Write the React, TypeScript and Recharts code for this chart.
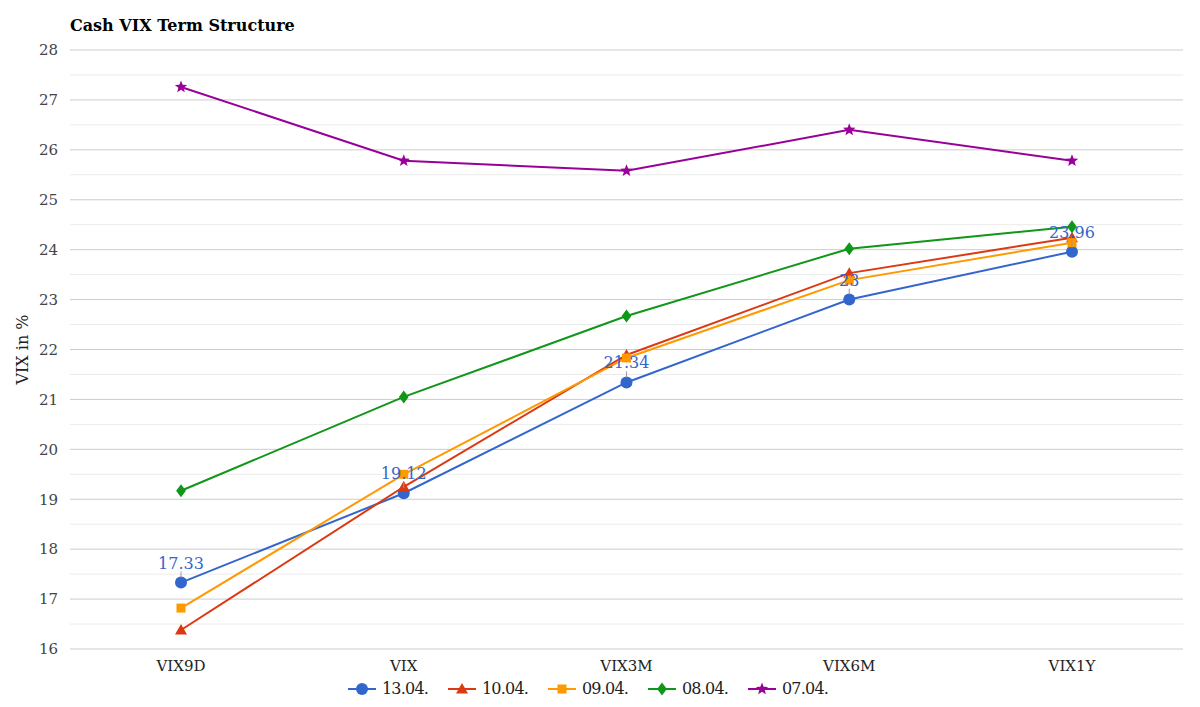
import React from "react"
import { LineChart, Line, XAxis, YAxis, CartesianGrid, ReferenceLine, Legend, LabelList } from "recharts"

const categories = ["VIX9D", "VIX", "VIX3M", "VIX6M", "VIX1Y"]
const s1304 = [17.33, 19.12, 21.34, 23, 23.96]
const s1004 = [16.38, 19.25, 21.89, 23.53, 24.24]
const s0904 = [16.82, 19.5, 21.83, 23.39, 24.14]
const s0804 = [19.17, 21.05, 22.67, 24.02, 24.46]
const s0704 = [27.26, 25.78, 25.58, 26.4, 25.78]
const yTicks = [16, 17, 18, 19, 20, 21, 22, 23, 24, 25, 26, 27, 28]
const minorTicks = [16.5, 17.5, 18.5, 19.5, 20.5, 21.5, 22.5, 23.5, 24.5, 25.5, 26.5, 27.5]

const series = [
  { key: "d1304", name: "13.04.", color: "#3366cc", shape: "circle", values: s1304 },
  { key: "d1004", name: "10.04.", color: "#dc3912", shape: "triangle", values: s1004 },
  { key: "d0904", name: "09.04.", color: "#ff9900", shape: "square", values: s0904 },
  { key: "d0804", name: "08.04.", color: "#109618", shape: "diamond", values: s0804 },
  { key: "d0704", name: "07.04.", color: "#990099", shape: "star", values: s0704 },
]

const data = categories.map((cat, i) => {
  const row: Record<string, string | number> = { cat }
  series.forEach((s) => (row[s.key] = s.values[i]))
  return row
})

const FONT = "'DejaVu Serif', serif"

function Marker({ shape, cx, cy, color }: { shape: string; cx: number; cy: number; color: string }) {
  if (shape === "circle") return <circle cx={cx} cy={cy} r={6} fill={color} />
  if (shape === "triangle") {
    const r = 6
    return <polygon points={`${cx},${cy - r} ${cx + r},${cy + r * 0.75} ${cx - r},${cy + r * 0.75}`} fill={color} />
  }
  if (shape === "square") return <rect x={cx - 4.5} y={cy - 4.5} width={9} height={9} fill={color} />
  if (shape === "diamond") {
    const r = 6.5
    return <polygon points={`${cx},${cy - r} ${cx + r * 0.75},${cy} ${cx},${cy + r} ${cx - r * 0.75},${cy}`} fill={color} />
  }
  // star
  const pts: string[] = []
  for (let k = 0; k < 10; k++) {
    const rad = k % 2 === 0 ? 6.5 : 2.8
    const a = -Math.PI / 2 + (k * Math.PI) / 5
    pts.push(`${cx + rad * Math.cos(a)},${cy + rad * Math.sin(a)}`)
  }
  return <polygon points={pts.join(" ")} fill={color} />
}

const renderLegend = () => (
  <div
    style={{
      display: "flex",
      justifyContent: "center",
      fontFamily: FONT,
      fontSize: 16,
      letterSpacing: -0.8,
      color: "#222",
    }}
  >
    {series.map((s, i) => (
      <div key={s.key} style={{ display: "flex", alignItems: "center", width: i === series.length - 1 ? "auto" : 100 }}>
        <svg width={28} height={14}>
          <line x1={0} y1={7} x2={28} y2={7} stroke={s.color} strokeWidth={2} />
          <Marker shape={s.shape} cx={14} cy={7} color={s.color} />
        </svg>
        <span style={{ marginLeft: 6 }}>{s.name}</span>
      </div>
    ))}
  </div>
)

const renderValueLabel = (props: any) => {
  const { x, y, value } = props
  return (
    <g>
      <line x1={x} y1={y - 11} x2={x} y2={y - 5} stroke="#999" strokeWidth={1} />
      <text x={x} y={y - 14} textAnchor="middle" fill="#3366cc" fontSize={16} fontFamily={FONT}>
        {value}
      </text>
    </g>
  )
}

export default function App() {
  return (
    <div style={{ position: "absolute", left: 0, top: 0, width: 1200, height: 707, background: "#fff" }}>
      <div
        style={{
          position: "absolute",
          left: 70,
          top: 16,
          fontFamily: FONT,
          fontWeight: "bold",
          fontSize: 16,
          color: "#000",
          zIndex: 2,
        }}
      >
        Cash VIX Term Structure
      </div>
      <LineChart width={1200} height={707} data={data} margin={{ top: 50, right: 17, bottom: 8, left: 20 }}>
        <CartesianGrid vertical={false} stroke="#cccccc" />
        {minorTicks.map((v) => (
          <ReferenceLine key={v} y={v} stroke="#ebebeb" />
        ))}
        <XAxis
          dataKey="cat"
          padding={{ left: 111, right: 111 }}
          axisLine={false}
          tickLine={false}
          tickMargin={5}
          height={30}
          tick={{ fill: "#222", fontSize: 15, fontFamily: FONT }}
        />
        <YAxis
          domain={[16, 28]}
          ticks={yTicks}
          width={50}
          axisLine={false}
          tickLine={false}
          tickMargin={6}
          tick={{ fill: "#444", fontSize: 15, fontFamily: FONT }}
          label={{
            content: ({ viewBox }: any) => {
              const cx = 22
              const cy = viewBox.y + viewBox.height / 2
              return (
                <text
                  x={cx}
                  y={cy}
                  transform={`rotate(-90 ${cx} ${cy})`}
                  textAnchor="middle"
                  dominantBaseline="central"
                  fill="#222"
                  fontSize={16}
                  fontFamily={FONT}
                >
                  VIX in %
                </text>
              )
            },
          }}
        />
        <Legend verticalAlign="bottom" height={20} content={renderLegend} wrapperStyle={{ left: 0, width: 1176 }} />
        {series.map((s) => (
          <Line
            key={s.key}
            dataKey={s.key}
            name={s.name}
            stroke={s.color}
            strokeWidth={2}
            isAnimationActive={false}
            dot={(p: any) => <Marker key={`${s.key}-${p.index}`} shape={s.shape} cx={p.cx} cy={p.cy} color={s.color} />}
            activeDot={false}
          />
        ))}
        <Line dataKey="d1304" stroke="none" dot={false} activeDot={false} legendType="none" isAnimationActive={false}>
          <LabelList dataKey="d1304" content={renderValueLabel} />
        </Line>
      </LineChart>
    </div>
  )
}
